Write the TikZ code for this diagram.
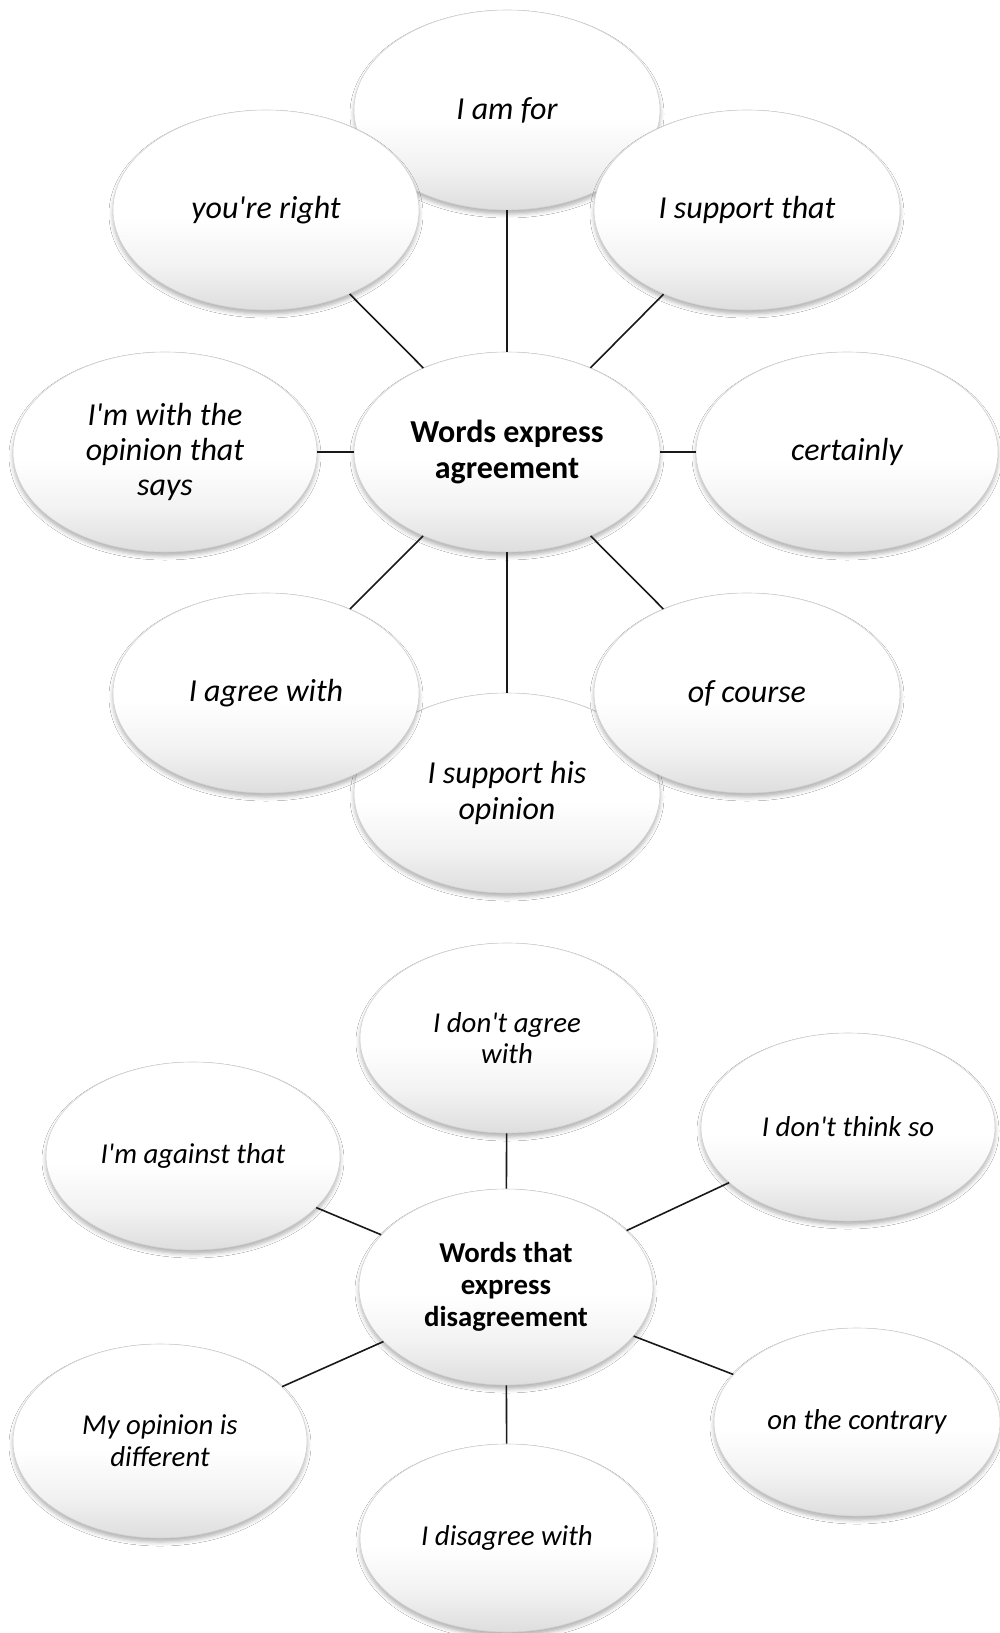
\documentclass[tikz,border=0pt]{standalone}
\usepackage{fontspec}
\setmainfont{Carlito}[Ligatures=TeXOff]
\usetikzlibrary{shapes.geometric,shadows.blur}

% white body that greys slightly towards the lower rim
\pgfdeclareverticalshading{bubbleshade}{100bp}{%
  color(0bp)=(black!13); color(25bp)=(black!13);
  color(36bp)=(black!5); color(48bp)=(white); color(100bp)=(white)}

\tikzset{
  bubble/.style={
    ellipse, draw=black!18, line width=0.6pt,
    shading=bubbleshade,
    blur shadow={shadow xshift=0pt, shadow yshift=-4pt,
                 shadow blur radius=4pt, shadow opacity=30},
    inner sep=0pt, align=center,
    minimum width=306pt, minimum height=200pt
  },
  upper/.style={bubble, font=\fontsize{32}{35.4}\selectfont\itshape},
  uppermain/.style={bubble, font=\fontsize{32}{35.4}\selectfont\bfseries},
  lower/.style={bubble, minimum width=294pt, minimum height=188pt,
                font=\fontsize{28.8}{31.8}\selectfont\itshape},
  lowermain/.style={bubble, minimum width=294pt, minimum height=196pt,
                    font=\fontsize{28.8}{31.8}\selectfont\bfseries},
  link/.style={draw=black!90, line width=1.6pt}
}

\begin{document}
\begin{tikzpicture}[x=1pt, y=-1pt]
  \fill[white] (0,0) rectangle (1000,1633);
  \useasboundingbox (0,0) rectangle (1000,1633);

  % ---- agreement map ----
  \node[upper] (amfor) at (507,110) {I am for};
  \node[upper] (right) at (266,210) {you're right};
  \node[upper] (supthat) at (747,210) {I support that};
  \node[uppermain] (agreement) at (507,452) {Words express\\agreement};
  \node[upper, minimum width=304pt] (withop) at (165,452) {I'm with the\\opinion that\\says};
  \node[upper, minimum width=302pt] (certainly) at (847,452) {certainly};
  \node[upper] (suphis) at (507,793) {I support his\\opinion};
  \node[upper] (agree) at (266,693) {I agree with};
  \node[upper] (course) at (747,693) {of course};

  \foreach \n in {amfor,right,supthat,withop,certainly,suphis,agree,course}
    \draw[link] (agreement) -- (\n);

  % ---- disagreement map ----
  \node[lower, minimum height=190pt] (dontagree) at (507,1038) {I don't agree\\with};
  \node[lower] (against) at (193,1156) {I'm against that};
  \node[lower] (thinkso) at (848,1127) {I don't think so};
  \node[lowermain] (disagreement) at (506,1287) {Words that\\express\\disagreement};
  \node[lower, minimum height=194pt] (different) at (160,1441) {My opinion is\\different};
  \node[lower, minimum width=286pt] (contrary) at (857,1422) {on the contrary};
  \node[lower] (disagree) at (507,1538) {I disagree with};

  \foreach \n in {dontagree,against,thinkso,different,contrary,disagree}
    \draw[link] (disagreement) -- (\n);
\end{tikzpicture}
\end{document}
